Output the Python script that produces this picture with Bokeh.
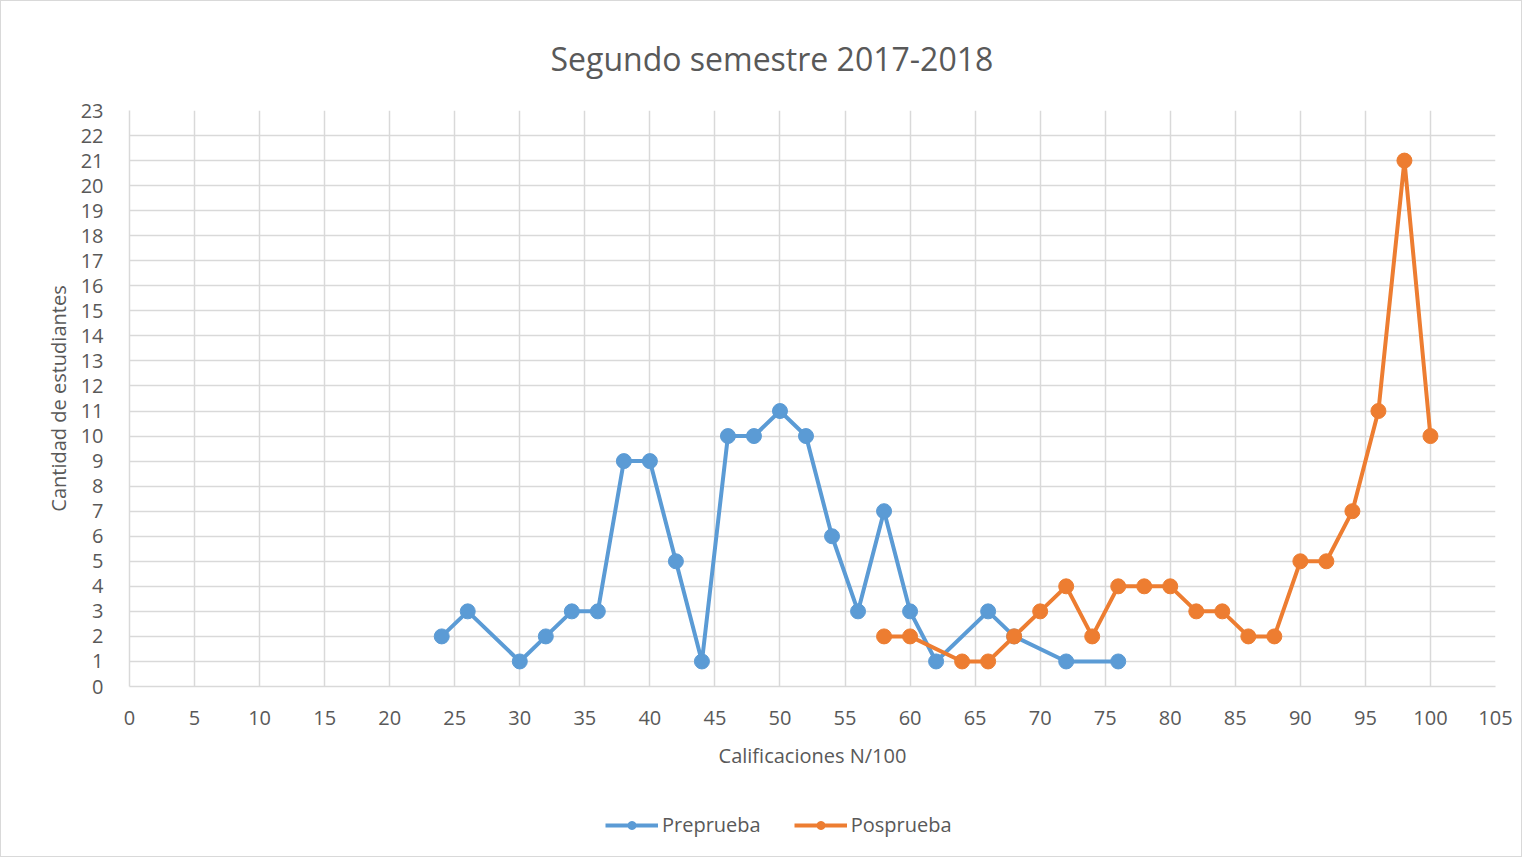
from bokeh.plotting import figure
from bokeh.models import Range1d, FixedTicker, Legend, LegendItem, ColumnDataSource
from bokeh.layouts import column
from bokeh.embed import file_html
from bokeh.resources import INLINE

pre_x = [24, 26, 30, 32, 34, 36, 38, 40, 42, 44, 46, 48, 50, 52, 54, 56, 58, 60, 62, 66, 68, 72, 76]
pre_y = [2, 3, 1, 2, 3, 3, 9, 9, 5, 1, 10, 10, 11, 10, 6, 3, 7, 3, 1, 3, 2, 1, 1]
pos_x = [58, 60, 64, 66, 68, 70, 72, 74, 76, 78, 80, 82, 84, 86, 88, 90, 92, 94, 96, 98, 100]
pos_y = [2, 2, 1, 1, 2, 3, 4, 2, 4, 4, 4, 3, 3, 2, 2, 5, 5, 7, 11, 21, 10]
x_ticks = list(range(0, 106, 5))
y_ticks = list(range(0, 24))
title_text = "Segundo semestre 2017-2018"
x_label = "Calificaciones N/100"
y_label = "Cantidad de estudiantes"
names = ["Preprueba", "Posprueba"]

FONT = "Open Sans"
GRAY = "#595959"
GRID = "#d9d9d9"
BLUE = "#5B9BD5"
ORANGE = "#ED7D31"

p = figure(frame_width=1366, frame_height=576, output_backend="svg", toolbar_location=None,
           x_range=Range1d(0, 105), y_range=Range1d(0, 23),
           min_border_left=128, min_border_right=26, min_border_top=109, min_border_bottom=90)
p.outline_line_color = None

p.title.text = title_text
p.title.align = "left"
p.title.offset = 421
p.title.standoff = 62
p.title.text_font = FONT
p.title.text_font_size = "32px"
p.title.text_font_style = "normal"
p.title.text_color = GRAY

for ax, ticks in ((p.xaxis[0], x_ticks), (p.yaxis[0], y_ticks)):
    ax.ticker = FixedTicker(ticks=ticks)
    ax.major_tick_line_color = None
    ax.minor_tick_line_color = None
    ax.axis_line_color = GRID
    ax.axis_line_width = 1.5
    ax.major_label_text_font = FONT
    ax.major_label_text_font_size = "20px"
    ax.major_label_text_color = GRAY
    ax.axis_label_text_font = FONT
    ax.axis_label_text_font_size = "20px"
    ax.axis_label_text_color = GRAY
    ax.axis_label_text_font_style = "normal"

p.xaxis.axis_label = x_label
p.yaxis.axis_label = y_label
p.xaxis.major_label_standoff = 18
p.yaxis.major_label_standoff = 20
p.xaxis.axis_label_standoff = 14
p.yaxis.axis_label_standoff = 6

p.xgrid.ticker = FixedTicker(ticks=x_ticks)
p.ygrid.ticker = FixedTicker(ticks=y_ticks)
p.grid.grid_line_color = GRID
p.grid.grid_line_width = 1.5

src_pre = ColumnDataSource(dict(x=pre_x, y=pre_y))
src_pos = ColumnDataSource(dict(x=pos_x, y=pos_y))
p.line("x", "y", source=src_pre, line_color=BLUE, line_width=4)
p.scatter("x", "y", source=src_pre, size=15, fill_color=BLUE, line_color=BLUE)
p.line("x", "y", source=src_pos, line_color=ORANGE, line_width=4)
p.scatter("x", "y", source=src_pos, size=15, fill_color=ORANGE, line_color=ORANGE)

# legend strip below the chart (series drawn outside its visible range, only legend shows)
q = figure(width=1520, height=80, output_backend="svg", toolbar_location=None,
           x_range=Range1d(-2, -1), y_range=Range1d(-2, -1),
           x_axis_type=None, y_axis_type=None, min_border=0)
q.outline_line_color = None
q.grid.visible = False
ql1 = q.line("x", "y", source=src_pre, line_color=BLUE, line_width=4)
qc1 = q.scatter("x", "y", source=src_pre, size=15, fill_color=BLUE, line_color=BLUE)
ql2 = q.line("x", "y", source=src_pos, line_color=ORANGE, line_width=4)
qc2 = q.scatter("x", "y", source=src_pos, size=15, fill_color=ORANGE, line_color=ORANGE)

legend = Legend(items=[LegendItem(label=names[0], renderers=[ql1, qc1]),
                       LegendItem(label=names[1], renderers=[ql2, qc2])],
                orientation="horizontal", location=(476, 18),
                label_text_font=FONT, label_text_font_size="20px", label_text_color=GRAY,
                glyph_width=53, glyph_height=20, label_standoff=4, spacing=33,
                border_line_color=None, background_fill_alpha=0, padding=0, margin=0)
q.add_layout(legend, "center")

layout = column(p, q, spacing=0)
layout.styles = {"border": "1px solid #d9d9d9"}

open("out.html", "w").write(file_html(layout, INLINE))
